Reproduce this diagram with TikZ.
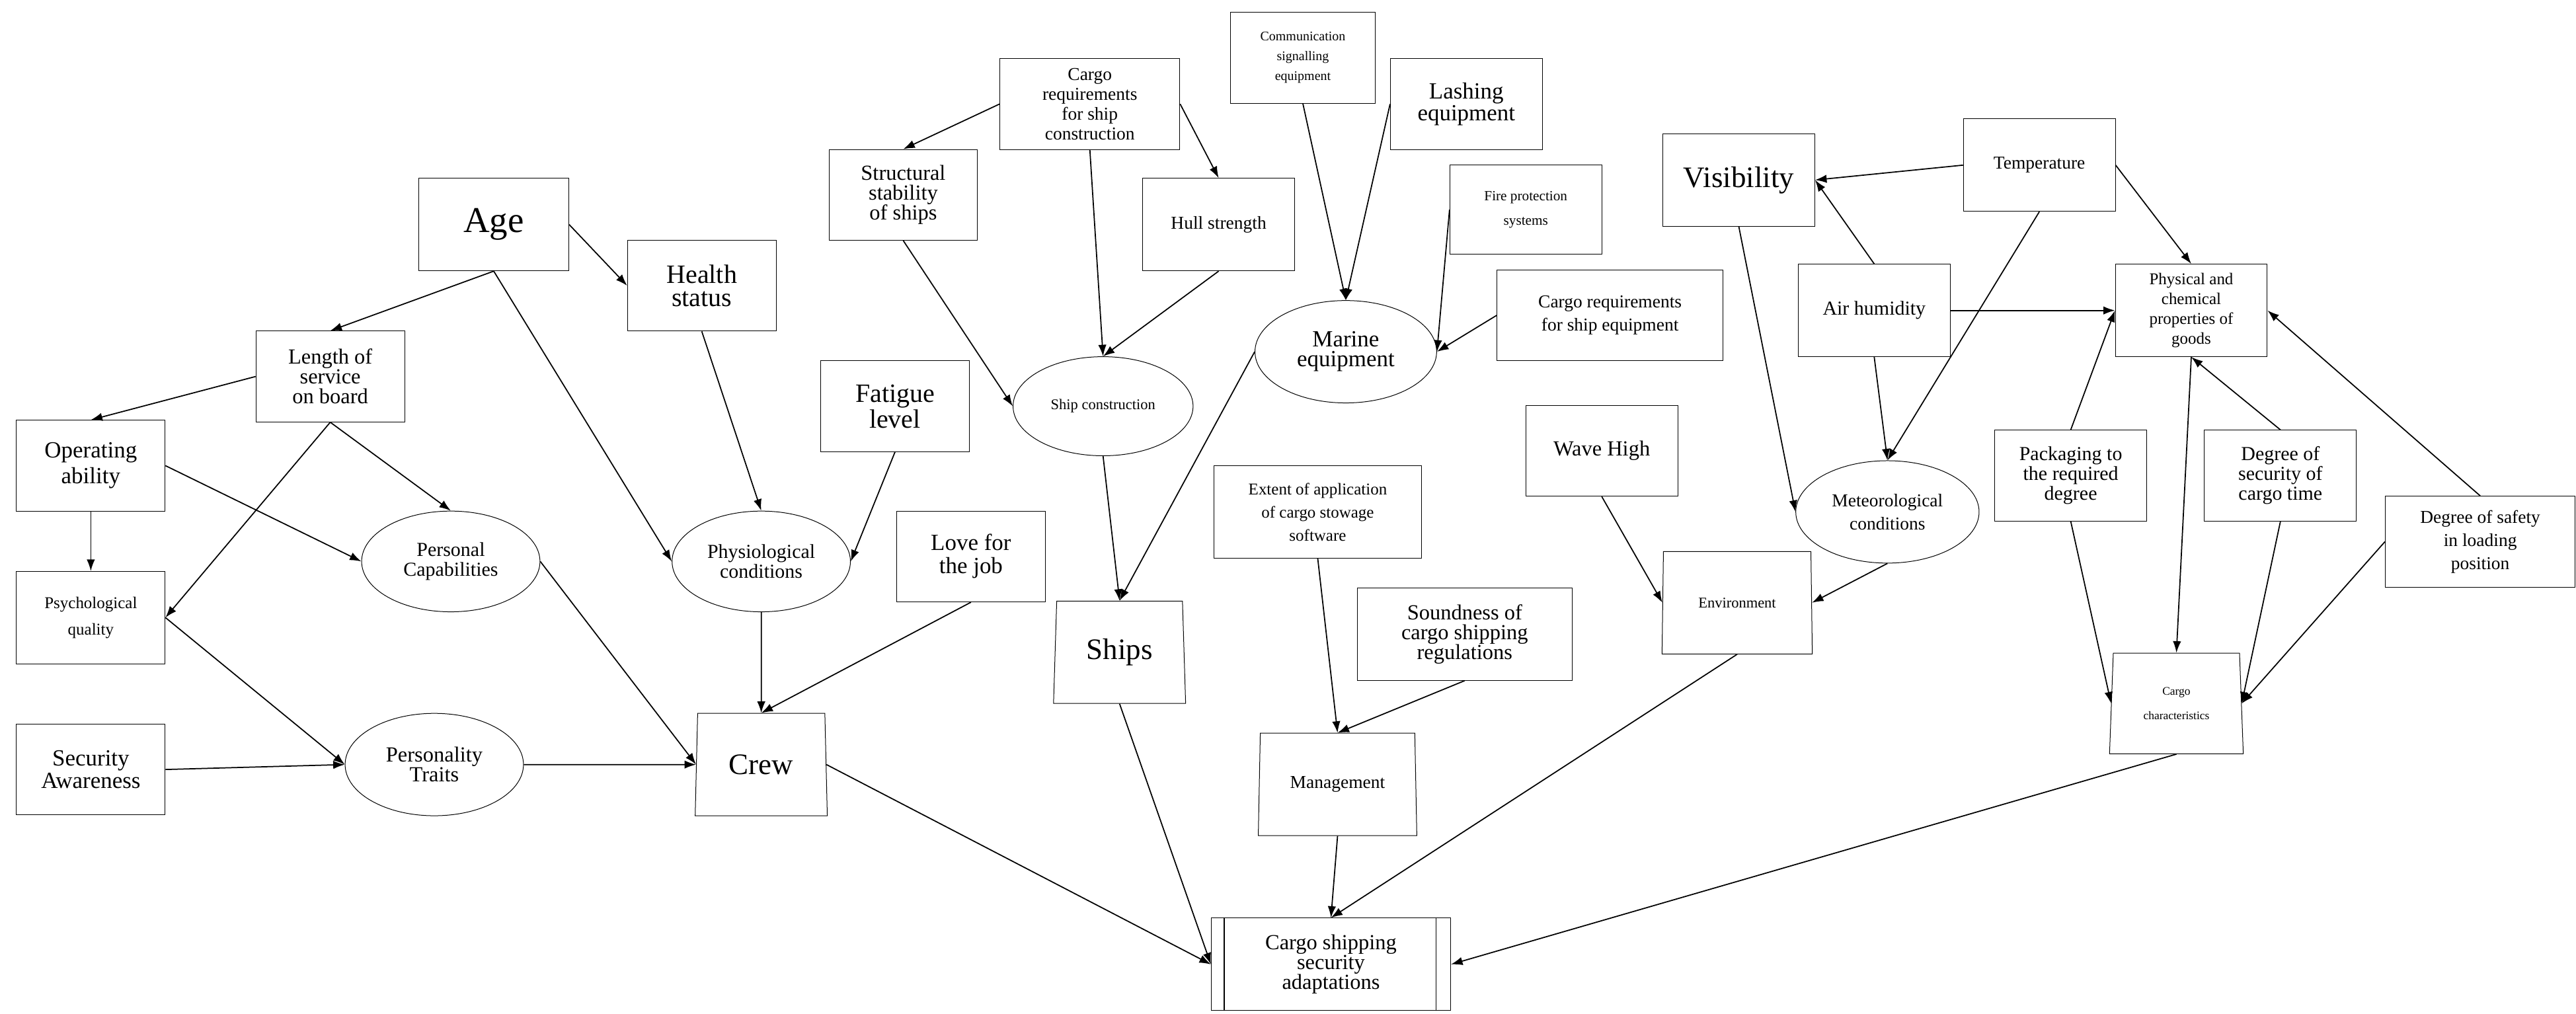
\documentclass[tikz,border=0pt]{standalone}
\usepackage{fontspec}
\setmainfont{Liberation Serif}
\usetikzlibrary{shapes.geometric,arrows.meta}
\newcommand{\fz}[1]{\fontsize{#1}{#1}\selectfont}
\begin{document}
\begin{tikzpicture}[x=1pt,y=-1pt,
  every node/.style={align=center,inner sep=1pt},
  bx/.style={draw,rectangle,minimum width=90pt,minimum height=55pt},
  el/.style={draw,ellipse,minimum width=108pt,minimum height=61pt},
  tz/.style={draw,trapezium,trapezium stretches body,trapezium left angle=84,trapezium right angle=84,minimum width=80pt,minimum height=62pt},
  ar/.style={-{Latex[length=7pt,width=5pt]},line width=0.7pt}]
\useasboundingbox (0,0) rectangle (1560,614);
% left part
\node[bx,minimum width=91pt,minimum height=56pt] (age) at (299,136) {\fz{22}Age};
\node[bx] (hs) at (425,173) {\fz{16}Health\\[2pt]\fz{16}status};
\node[bx] (len) at (200,228) {\fz{13}Length of\\\fz{13}service\\\fz{13}on board};
\node[bx] (op) at (55,282) {\fz{14}Operating\\[2pt]\fz{14}ability};
\node[bx,minimum height=56pt] (psy) at (55,374) {\fz{10}Psychological\\[4pt]\fz{10}quality};
\node[bx] (sa) at (55,466) {\fz{14}Security\\\fz{14}Awareness};
\node[el] (pc) at (273,340) {\fz{12}Personal\\\fz{12}Capabilities};
\node[el,minimum height=62pt] (pt) at (263,463) {\fz{13}Personality\\\fz{13}Traits};
\node[el] (phy) at (461,340) {\fz{12}Physiological\\\fz{12}conditions};
\node[bx] (fat) at (542,246) {\fz{16}Fatigue\\\fz{16}level};
\node[bx] (love) at (588,337) {\fz{14}Love for\\[2pt]\fz{14}the job};
\node[tz] (crew) at (461,463) {\fz{18}Crew};
\node[bx] (str) at (547,118) {\fz{13}Structural\\\fz{13}stability\\\fz{13}of ships};
\node[bx,minimum width=109pt] (crc) at (660,63) {\fz{11}Cargo\\\fz{11}requirements\\\fz{11}for ship\\\fz{11}construction};
\node[bx,minimum width=92pt,minimum height=56pt] (hull) at (738,136) {\fz{11}Hull strength};
\node[el,minimum width=109pt,minimum height=60pt] (sc) at (668,246) {\fz{9}Ship construction};
\node[tz] (ships) at (678,395) {\fz{18}Ships};
% middle
\node[bx,minimum width=88pt] (comm) at (789,35) {\fz{8}Communication\\\fz{8}signalling\\\fz{8}equipment};
\node[bx,minimum width=92pt] (lash) at (888,63) {\fz{14}Lashing\\\fz{14}equipment};
\node[bx,minimum width=92pt,minimum height=54pt] (fire) at (924,127) {\fz{8.5}Fire protection\\[3pt]\fz{8.5}systems};
\node[el,minimum width=110pt,minimum height=62pt] (me) at (815,213) {\fz{14}Marine\\\fz{14}equipment};
\node[bx,minimum width=137pt] (cre) at (975,191) {\fz{11}Cargo requirements\\[2pt]\fz{11}for ship equipment};
\node[bx,minimum width=126pt,minimum height=56pt] (ext) at (798,310) {\fz{10}Extent of application\\[2pt]\fz{10}of cargo stowage\\[2pt]\fz{10}software};
\node[bx,minimum width=130pt,minimum height=56pt] (snd) at (887,384) {\fz{13}Soundness of\\\fz{13}cargo shipping\\\fz{13}regulations};
\node[tz,minimum width=96pt] (man) at (810,475) {\fz{11}Management};
\node[draw,rectangle,minimum width=145pt,minimum height=56pt] (csa) at (806,584) {\fz{13}Cargo shipping\\\fz{13}security\\\fz{13}adaptations};
\draw[line width=0.7pt] ([xshift=8pt]csa.north west) -- ([xshift=8pt]csa.south west);
\draw[line width=0.7pt] ([xshift=-9pt]csa.north east) -- ([xshift=-9pt]csa.south east);
% right
\node[bx,minimum width=92pt,minimum height=56pt] (vis) at (1053,109) {\fz{18}Visibility};
\node[bx,minimum width=92pt,minimum height=56pt] (temp) at (1235,100) {\fz{11}Temperature};
\node[bx,minimum width=92pt,minimum height=56pt] (air) at (1135,188) {\fz{12}Air humidity};
\node[bx,minimum width=92pt,minimum height=56pt] (phc) at (1327,188) {\fz{10}Physical and\\\fz{10}chemical\\\fz{10}properties of\\\fz{10}goods};
\node[el,minimum width=111pt,minimum height=62pt] (met) at (1143,310) {\fz{11}Meteorological\\[2pt]\fz{11}conditions};
\node[bx,minimum width=92pt] (wave) at (970,273) {\fz{13}Wave High};
\node[tz,minimum width=91pt] (env) at (1052,365) {\fz{9}Environment};
\node[bx,minimum width=92pt] (pack) at (1254,288) {\fz{12}Packaging to\\\fz{12}the required\\\fz{12}degree};
\node[bx,minimum width=92pt] (dsc) at (1381,288) {\fz{12}Degree of\\\fz{12}security of\\\fz{12}cargo time};
\node[bx,minimum width=115pt] (dsl) at (1502,328) {\fz{11}Degree of safety\\[2pt]\fz{11}in loading\\[2pt]\fz{11}position};
\node[tz,minimum width=81pt,minimum height=61pt] (cc) at (1318,426) {\fz{7}Cargo\\[3pt]\fz{7}characteristics};
% arrows
\draw[ar] (age.east) -- (hs.west);
\draw[ar] (age.south) -- (len.north);
\draw[ar] (age.south) -- (phy.west);
\draw[ar] (len.west) -- (op.north);
\draw[ar] (len.south) -- (pc.north);
\draw[ar] (len.south) -- (psy.east);
\draw[ar] (op.south) -- (psy.north);
\draw[ar] (op.east) -- (pc.west);
\draw[ar] (psy.east) -- (pt.west);
\draw[ar] (sa.east) -- (pt.west);
\draw[ar] (pt.east) -- (crew.west);
\draw[ar] (pc.east) -- (crew.west);
\draw[ar] (hs.south) -- (phy.north);
\draw[ar] (fat.south) -- (phy.east);
\draw[ar] (phy.south) -- (crew.north);
\draw[ar] (love.south) -- (crew.north);
\draw[ar] (crew.east) -- (csa.west);
\draw[ar] (crc.west) -- (str.north);
\draw[ar] (crc.east) -- (hull.north);
\draw[ar] (crc.south) -- (sc.north);
\draw[ar] (str.south) -- (sc.west);
\draw[ar] (hull.south) -- (sc.north);
\draw[ar] (sc.south) -- (ships.north);
\draw[ar] (me.west) -- (ships.north);
\draw[ar] (comm.south) -- (me.north);
\draw[ar] (lash.west) -- (me.north);
\draw[ar] (fire.west) -- (me.east);
\draw[ar] (cre.west) -- (me.east);
\draw[ar] (ships.south) -- (csa.west);
\draw[ar] (ext.south) -- (man.north);
\draw[ar] (snd.south) -- (man.north);
\draw[ar] (man.south) -- (csa.north);
\draw[ar] (wave.south) -- (env.west);
\draw[ar] (met.south) -- (env.east);
\draw[ar] (env.south) -- (csa.north);
\draw[ar] (vis.south) -- (met.west);
\draw[ar] (temp.west) -- (vis.east);
\draw[ar] (air.north) -- (vis.east);
\draw[ar] (temp.south) -- (met.north);
\draw[ar] (air.south) -- (met.north);
\draw[ar] (temp.east) -- (phc.north);
\draw[ar] (air.east) -- (phc.west);
\draw[ar] (pack.north) -- (phc.west);
\draw[ar] (pack.south) -- (cc.west);
\draw[ar] (phc.south) -- (cc.north);
\draw[ar] (dsc.north) -- (phc.south);
\draw[ar] (dsc.south) -- (cc.east);
\draw[ar] (dsl.north) -- (phc.east);
\draw[ar] (dsl.west) -- (cc.east);
\draw[ar] (cc.south) -- (csa.east);
\end{tikzpicture}
\end{document}
